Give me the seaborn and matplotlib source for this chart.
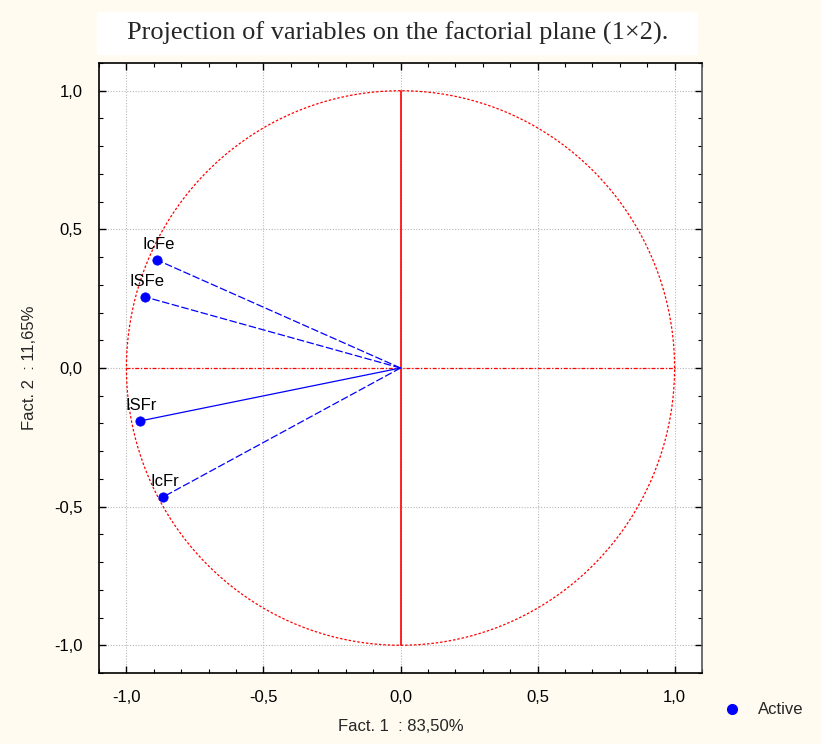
import matplotlib
matplotlib.use("Agg")
import matplotlib.pyplot as plt
from matplotlib.lines import Line2D
from matplotlib.patches import Rectangle
from matplotlib.ticker import MultipleLocator, FuncFormatter
import seaborn as sns
import numpy as np
import pandas as pd

# variable coordinates on factor 1 / factor 2
variables = ["IcFe", "ISFe", "ISFr", "IcFr"]
fact1 = [-0.887, -0.931, -0.950, -0.866]
fact2 = [0.389, 0.256, -0.191, -0.465]
line_styles = ["--", "--", "-", "--"]

title = "Projection of variables on the factorial plane (1\u00d72)."
xlabel = "Fact. 1  : 83,50%"
ylabel = "Fact. 2  : 11,65%"

BG = "#fffbf0"

sns.set_theme(style="white")
plt.rcParams["font.family"] = ["Liberation Sans", "DejaVu Sans"]

df = pd.DataFrame({"variable": variables, "f1": fact1, "f2": fact2, "group": "Active"})

fig = plt.figure(figsize=(8.21, 7.44), dpi=100, facecolor=BG)
ax = fig.add_axes([99 / 821, 1 - 673 / 744, 603 / 821, 610 / 744])
ax.set_facecolor("white")

# title box
fig.patches.append(Rectangle((97 / 821, 1 - 55 / 744), 601 / 821, 43 / 744,
                             transform=fig.transFigure, facecolor="white",
                             edgecolor="none", zorder=0))
fig.text(398 / 821, 1 - 33 / 744, title, ha="center", va="center",
         fontsize=19, family=["Liberation Serif", "DejaVu Serif"])

# grid
ax.xaxis.set_major_locator(MultipleLocator(0.5))
ax.yaxis.set_major_locator(MultipleLocator(0.5))
ax.xaxis.set_minor_locator(MultipleLocator(0.1))
ax.yaxis.set_minor_locator(MultipleLocator(0.1))
ax.grid(True, which="major", color="#b8b8b8", linestyle=(0, (1, 1.5)), linewidth=0.8)
ax.set_axisbelow(True)

# unit circle and axes through origin
t = np.linspace(0, 2 * np.pi, 400)
ax.plot(np.cos(t), np.sin(t), color="#ff0000", linestyle=(0, (2, 1.5)), linewidth=0.9)
ax.plot([0, 0], [-1, 1], color="#ff0000", linewidth=1.2)
ax.plot([-1, 1], [0, 0], color="#ff0000", linestyle=(0, (3, 1.5, 1, 1.5)), linewidth=0.9)

# vectors
for x, y, ls in zip(fact1, fact2, line_styles):
    ax.plot([0, x], [0, y], color="blue", linestyle=ls, linewidth=0.9,
            dashes=(6, 2) if ls == "--" else (None, None))

sns.scatterplot(data=df, x="f1", y="f2", color="blue", s=45, edgecolor="blue",
                zorder=5, ax=ax, legend=False)

for name, x, y in zip(variables, fact1, fact2):
    ax.annotate(name, (x, y), xytext=(1, 6), textcoords="offset points",
                ha="center", va="bottom", fontsize=12, color="black")

ax.set_xlim(-1.1, 1.1)
ax.set_ylim(-1.1, 1.1)

fmt = FuncFormatter(lambda v, p: f"{v:.1f}".replace(".", ","))
ax.xaxis.set_major_formatter(fmt)
ax.yaxis.set_major_formatter(fmt)
ax.tick_params(which="both", direction="in", top=True, right=True,
               bottom=True, left=True, labelsize=12, colors="black")
ax.tick_params(which="major", length=5, width=1, pad=12)
ax.tick_params(which="minor", length=3, width=0.8)

ax.set_xlabel(xlabel, fontsize=12, labelpad=10)
ax.set_ylabel(ylabel, fontsize=12, labelpad=12)

for side, sp in ax.spines.items():
    sp.set_visible(True)
    sp.set_color("black" if side in ("left", "top", "bottom") else "#555555")
    sp.set_linewidth(1.2)

handle = Line2D([], [], marker="o", linestyle="none", color="blue",
                markersize=7, label="Active")
fig.legend(handles=[handle], loc="center left", bbox_to_anchor=(700 / 821, 1 - 710 / 744),
           frameon=False, fontsize=12, handletextpad=0.6)

fig.savefig("out.png", dpi=100, facecolor=BG)
